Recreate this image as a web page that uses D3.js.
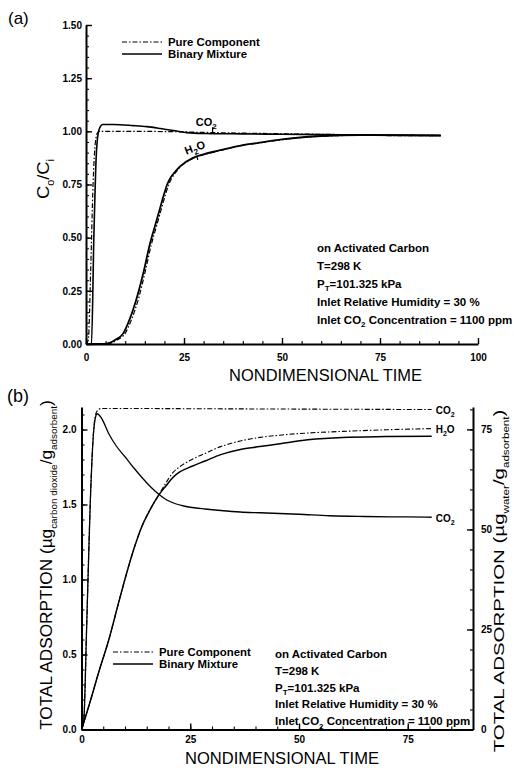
<!DOCTYPE html>
<html><head><meta charset="utf-8">
<script src="https://cdn.jsdelivr.net/npm/d3@7"></script>
<style>
body{margin:0;background:#fff;}
svg{display:block;font-family:"Liberation Sans",Arial,Helvetica,sans-serif;}
</style></head><body>
<svg id="c" width="514" height="768"></svg>
<script>
// ---------- DATA ----------
// panel (a): outlet / inlet concentration
const A_X_TICKS = [0, 25, 50, 75, 100];
const A_Y_TICKS = [0, 0.25, 0.5, 0.75, 1.0, 1.25, 1.5];

const a_co2Pure_t = [0, 0.6, 1.2, 1.8, 2.4, 3.0, 3.6, 10, 20, 30, 45, 60, 75, 90.5];
const a_co2Pure_v = [0, 0.02, 0.35, 0.75, 0.95, 0.995, 1.0, 1.0, 0.999, 0.995, 0.99, 0.986, 0.983, 0.981];

const a_co2Bin_t = [0, 1.4, 2.0, 2.6, 3.1, 3.6, 4.2, 7, 12, 15.5, 19, 21.4, 23.5, 25.7, 30, 40, 50, 65, 80, 90.5];
const a_co2Bin_v = [0, 0, 0.5, 0.88, 0.99, 1.02, 1.032, 1.032, 1.027, 1.022, 1.013, 1.006, 1.0, 0.994, 0.99, 0.988, 0.986, 0.984, 0.982, 0.981];

const a_h2oBin_t = [0, 4.5, 6, 7.5, 9.5, 11, 13, 14.7, 16.3, 17.6, 18.9, 20, 20.7, 21.5, 22.5, 24, 27.3, 30, 34, 40, 43.6, 50, 60, 70, 80, 90.5];
const a_h2oBin_v = [0, 0, 0.005, 0.02, 0.05, 0.11, 0.22, 0.34, 0.47, 0.555, 0.64, 0.71, 0.75, 0.78, 0.805, 0.835, 0.875, 0.892, 0.91, 0.935, 0.945, 0.962, 0.978, 0.982, 0.981, 0.98];

const a_h2oPure_t = [0, 5, 6.5, 8, 10, 11.5, 13.5, 15.1, 16.7, 18, 19.3, 20.4, 21.1, 21.9, 22.8, 24.2, 27.3, 30, 34, 40, 43.6, 50, 60, 70, 80, 90.5];
const a_h2oPure_v = [0, 0, 0.005, 0.02, 0.05, 0.11, 0.22, 0.34, 0.47, 0.555, 0.64, 0.71, 0.75, 0.78, 0.805, 0.835, 0.873, 0.89, 0.909, 0.934, 0.944, 0.961, 0.977, 0.981, 0.98, 0.98];

// panel (b): total adsorption
const B_X_TICKS = [0, 25, 50, 75];
const B_YL_TICKS = [0, 0.5, 1.0, 1.5, 2.0];
const B_YR_TICKS = [0, 25, 50, 75];

// CO2, left axis (µg carbon dioxide / g adsorbent)
const b_co2Pure_t = [0, 0.5, 1.2, 2.0, 2.8, 3.5, 4.5, 10, 30, 50, 70, 80.5];
const b_co2Pure_v = [0, 0.05, 0.7, 1.5, 2.0, 2.12, 2.14, 2.14, 2.138, 2.136, 2.134, 2.133];

const b_co2Bin_t = [0, 0.5, 1.2, 2.0, 2.7, 3.2, 3.6, 4.5, 6.3, 8, 10.1, 12, 13.9, 15.8, 17.7, 19.6, 21.6, 23.5, 25.4, 28.4, 32, 36.5, 41, 50, 57, 65, 75, 80.5];
const b_co2Bin_v = [0, 0.05, 0.7, 1.5, 1.95, 2.08, 2.105, 2.08, 1.97, 1.89, 1.815, 1.745, 1.68, 1.62, 1.57, 1.53, 1.505, 1.49, 1.48, 1.47, 1.46, 1.45, 1.445, 1.435, 1.425, 1.42, 1.417, 1.415];

// H2O, right axis (µg water / g adsorbent)
const b_h2oPure_t = [0, 2, 4, 6.3, 8, 10.1, 12, 13.9, 15.8, 17.7, 19.5, 21, 22.5, 25.4, 28.4, 32, 36.5, 41, 46, 52, 60, 70, 80.5];
const b_h2oPure_v = [0, 7, 14.5, 22.5, 29.5, 38, 45, 50.8, 55, 58.5, 61.8, 64.2, 65.6, 67.5, 69, 70.7, 72.1, 73, 73.6, 74.1, 74.5, 74.9, 75.2];

const b_h2oBin_t = [0, 2, 4, 6.3, 8, 10.1, 12, 13.9, 15.8, 17.7, 19.5, 21, 22.5, 25.4, 28.4, 32, 36.5, 41, 46, 52, 60, 70, 80.5];
const b_h2oBin_v = [0, 7, 14.5, 22.5, 29.5, 38, 45, 50.8, 55, 58.5, 61, 63, 64.3, 65.8, 67.1, 68.7, 70, 70.7, 71.5, 72.4, 73, 73.2, 73.3];

const LEGEND = ["Pure Component", "Binary Mixture"];
const NOTES = [
  [{t:"on Activated Carbon"}],
  [{t:"T=298 K"}],
  [{t:"P"},{t:"T",sub:true},{t:"=101.325 kPa"}],
  [{t:"Inlet Relative Humidity = 30 %"}],
  [{t:"Inlet CO"},{t:"2",sub:true},{t:" Concentration = 1100 ppm"}]
];

// ---------- DRAWING ----------
const svg = d3.select("#c");
svg.append("rect").attr("width",514).attr("height",768).attr("fill","#fff");
const DASH = "5,2,1.5,2";
const zip = (t,v) => t.map((d,i)=>[d,v[i]]);

function rich(text, parts, fs, subFs){
  let shift = 0;
  parts.forEach(p=>{
    const target = p.sub ? fs*0.3 : 0;
    text.append("tspan").attr("dy", target - shift).attr("font-size", p.sub?subFs:fs).text(p.t);
    shift = target;
  });
}

function styleAxis(g, fs){
  g.attr("font-family",null).attr("font-size",null);
  g.select(".domain").attr("stroke","#000").attr("stroke-width",2);
  g.selectAll(".tick line").attr("stroke","#000").attr("stroke-width",1.4);
  g.selectAll(".tick text").attr("font-size",fs).attr("font-weight","bold").attr("fill","#000");
}
function minor(g){ g.select(".domain").remove(); g.selectAll(".tick line").attr("stroke","#000").attr("stroke-width",1.1); }

function label(parts, cx, cy, rot, target, fs, subFs){
  const g = svg.append("g");
  const t = g.append("text").attr("text-anchor","middle").attr("y", fs*0.35).attr("fill","#000");
  rich(t, parts, fs, subFs);
  const w = t.node().getBBox().width;
  g.attr("transform", `translate(${cx},${cy}) rotate(${rot}) scale(${target/w},1)`);
}

function drawSeries(data, x, y, dashed, w){
  svg.append("path").datum(data)
    .attr("fill","none").attr("stroke","#000")
    .attr("stroke-width", w)
    .attr("stroke-dasharray", dashed ? DASH : null)
    .attr("d", d3.line().x(d=>x(d[0])).y(d=>y(d[1])).curve(d3.curveMonotoneX));
}

function legend(x0, y0, dy){
  LEGEND.forEach((name,i)=>{
    svg.append("line").attr("x1",x0).attr("x2",x0+40).attr("y1",y0+i*dy).attr("y2",y0+i*dy)
      .attr("stroke","#000").attr("stroke-width", i===0?1.1:1.4).attr("stroke-dasharray", i===0?DASH:null);
    svg.append("text").attr("x",x0+46).attr("y",y0+i*dy+4).attr("font-size",11.4).attr("font-weight","bold").text(name);
  });
}
function notes(x0, yc, step){
  NOTES.forEach((parts,i)=>{
    const t = svg.append("text").attr("x",x0).attr("y",yc+i*step+4).attr("font-weight","bold").attr("fill","#000");
    rich(t, parts, 11.5, 8);
  });
}

// ===== Panel (a) =====
const xA = d3.scaleLinear().domain([0,100]).range([86,478]);
const yA = d3.scaleLinear().domain([0,1.5]).range([344,25]);

drawSeries(zip(a_co2Pure_t,a_co2Pure_v), xA, yA, true, 1.2);
drawSeries(zip(a_h2oPure_t,a_h2oPure_v), xA, yA, true, 1.2);
drawSeries(zip(a_co2Bin_t,a_co2Bin_v), xA, yA, false, 1.6);
drawSeries(zip(a_h2oBin_t,a_h2oBin_v), xA, yA, false, 1.8);

svg.append("g").attr("transform",`translate(0,${yA(0)})`)
  .call(d3.axisBottom(xA).tickValues(d3.range(0,101,5)).tickFormat("").tickSize(-3)).call(minor);
svg.append("g").attr("transform",`translate(${xA(0)},0)`)
  .call(d3.axisLeft(yA).tickValues(d3.range(0,1.501,0.05)).tickFormat("").tickSize(-3)).call(minor);
svg.append("g").attr("transform",`translate(0,${yA(0)})`)
  .call(d3.axisBottom(xA).tickValues(A_X_TICKS).tickFormat(d3.format("d")).tickSizeInner(-6).tickSizeOuter(0).tickPadding(9.5))
  .call(g=>styleAxis(g,10));
svg.append("g").attr("transform",`translate(${xA(0)},0)`)
  .call(d3.axisLeft(yA).tickValues(A_Y_TICKS).tickFormat(d3.format(".2f")).tickSizeInner(-6).tickSizeOuter(0).tickPadding(4))
  .call(g=>styleAxis(g,10));

// curve labels (a)
{
  const t1 = svg.append("text").attr("x",xA(28)).attr("y",yA(1.03)+1).attr("font-weight","bold");
  rich(t1,[{t:"CO"},{t:"2",sub:true}],11,8);
  svg.append("line").attr("x1",xA(32.3)).attr("x2",xA(32.3)).attr("y1",yA(1.0)-4).attr("y2",yA(0.992)).attr("stroke","#000").attr("stroke-width",1.2);
  const t2 = svg.append("text").attr("transform",`translate(${xA(25.6)},${yA(0.89)}) rotate(-20)`).attr("font-weight","bold");
  rich(t2,[{t:"H"},{t:"2",sub:true},{t:"O"}],11,8);
  svg.append("line").attr("x1",xA(28.3)).attr("x2",xA(28.5)).attr("y1",yA(0.875)-2).attr("y2",yA(0.88)+3).attr("stroke","#000").attr("stroke-width",1.2);
}

legend(122, 42, 12);
notes(317, 248, 18);

svg.append("text").attr("x",8).attr("y",24).attr("font-size",17).text("(a)");
label([{t:"C"},{t:"o",sub:true},{t:"/C"},{t:"i",sub:true}], 43, 179, -90, 40, 17, 10);
label([{t:"NONDIMENSIONAL TIME"}], 325.5, 375, 0, 193, 16.5, 10);

// ===== Panel (b) =====
const xB = d3.scaleLinear().domain([0,90]).range([81.5,473]);
const yBL = d3.scaleLinear().domain([0,2.15]).range([729.5,407]);
const yBR = d3.scaleLinear().domain([0,80.6]).range([729.5,407]);

drawSeries(zip(b_co2Pure_t,b_co2Pure_v), xB, yBL, true, 1.1);
drawSeries(zip(b_h2oPure_t,b_h2oPure_v), xB, yBR, true, 1.1);
drawSeries(zip(b_co2Bin_t,b_co2Bin_v), xB, yBL, false, 1.3);
drawSeries(zip(b_h2oBin_t,b_h2oBin_v), xB, yBR, false, 1.5);

svg.append("g").attr("transform",`translate(0,${yBL(0)})`)
  .call(d3.axisBottom(xB).tickValues(d3.range(0,90.1,5)).tickFormat("").tickSize(-3)).call(minor);
svg.append("g").attr("transform",`translate(${xB(0)},0)`)
  .call(d3.axisLeft(yBL).tickValues(d3.range(0,2.11,0.1)).tickFormat("").tickSize(-3)).call(minor);
svg.append("g").attr("transform",`translate(${xB(90)},0)`)
  .call(d3.axisRight(yBR).tickValues(d3.range(0,80.1,5)).tickFormat("").tickSize(-3)).call(minor);

svg.append("g").attr("transform",`translate(0,${yBL(0)})`)
  .call(d3.axisBottom(xB).tickValues(B_X_TICKS).tickFormat(d3.format("d")).tickSizeInner(-6).tickSizeOuter(0).tickPadding(6.5))
  .call(g=>styleAxis(g,10));
svg.append("g").attr("transform",`translate(${xB(0)},0)`)
  .call(d3.axisLeft(yBL).tickValues(B_YL_TICKS).tickFormat(d3.format(".1f")).tickSizeInner(-6).tickSizeOuter(0).tickPadding(5))
  .call(g=>styleAxis(g,10));
svg.append("g").attr("transform",`translate(${xB(90)},0)`)
  .call(d3.axisRight(yBR).tickValues(B_YR_TICKS).tickFormat(d3.format("d")).tickSizeInner(-6).tickSizeOuter(0).tickPadding(8))
  .call(g=>styleAxis(g,10));

// end labels (b)
{
  const ends = [
    [b_co2Pure_t, b_co2Pure_v, yBL, [{t:"CO"},{t:"2",sub:true}]],
    [b_h2oPure_t, b_h2oPure_v, yBR, [{t:"H"},{t:"2",sub:true},{t:"O"}]],
    [b_co2Bin_t, b_co2Bin_v, yBL, [{t:"CO"},{t:"2",sub:true}]]
  ];
  ends.forEach(([t,v,y,parts])=>{
    const n = t.length-1;
    const tx = svg.append("text").attr("x", xB(t[n])+4).attr("y", y(v[n])+4.5).attr("font-weight","bold");
    rich(tx, parts, 10, 7);
  });
}

legend(113, 652, 12);
notes(275, 654, 16.8);

svg.append("text").attr("x",7).attr("y",402).attr("font-size",18).text("(b)");
label([{t:"TOTAL ADSORPTION (µg"},{t:"carbon dioxide",sub:true},{t:"/g"},{t:"adsorbent",sub:true},{t:")"}], 46, 565, -90, 330, 16.5, 9.5);
label([{t:"TOTAL ADSORPTION (µg"},{t:"water",sub:true},{t:"/g"},{t:"adsorbent",sub:true},{t:")"}], 499, 581, -90, 343, 15, 8.5);
label([{t:"NONDIMENSIONAL TIME"}], 282, 758, 0, 194, 16.5, 10);
</script>
</body></html>
